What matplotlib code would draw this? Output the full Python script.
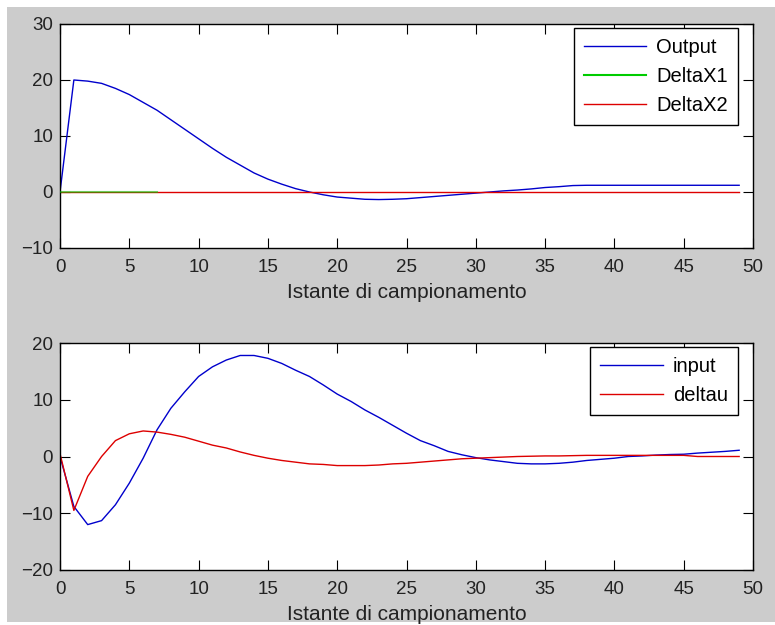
import matplotlib
matplotlib.use("Agg")
import matplotlib.pyplot as plt
from matplotlib.patches import Rectangle

plt.rcParams["font.family"] = ["Liberation Sans", "DejaVu Sans"]

# sample index
k = list(range(50))

output = [0, 20, 19.8, 19.4, 18.5, 17.4, 16.0, 14.6, 12.9, 11.2,
          9.5, 7.8, 6.2, 4.8, 3.4, 2.3, 1.4, 0.6, 0.0, -0.5,
          -0.9, -1.1, -1.3, -1.35, -1.3, -1.2, -1.0, -0.8, -0.6, -0.4,
          -0.2, 0.0, 0.2, 0.35, 0.55, 0.8, 0.95, 1.15, 1.2, 1.2,
          1.2, 1.2, 1.2, 1.2, 1.2, 1.2, 1.2, 1.2, 1.2, 1.2]
deltax1 = [0, 0, 0, 0, 0, 0, 0, 0]
deltax2 = [0] * 50

inp = [0, -8.8, -12.0, -11.3, -8.5, -4.7, -0.3, 4.7, 8.5, 11.4,
       14.1, 15.8, 17.0, 17.8, 17.8, 17.3, 16.4, 15.2, 14.1, 12.6,
       11.0, 9.7, 8.2, 6.9, 5.5, 4.1, 2.8, 1.9, 0.9, 0.3,
       -0.2, -0.6, -0.9, -1.2, -1.3, -1.3, -1.2, -1.0, -0.7, -0.5,
       -0.3, 0.0, 0.1, 0.25, 0.35, 0.4, 0.6, 0.75, 0.9, 1.1]
deltau = [0.5, -9.5, -3.5, 0.0, 2.8, 4.0, 4.5, 4.3, 3.9, 3.4,
          2.7, 2.0, 1.5, 0.8, 0.2, -0.3, -0.7, -1.0, -1.3, -1.4,
          -1.6, -1.6, -1.6, -1.5, -1.3, -1.2, -1.0, -0.8, -0.6, -0.4,
          -0.3, -0.2, -0.1, 0.0, 0.05, 0.1, 0.1, 0.15, 0.2, 0.2,
          0.2, 0.2, 0.2, 0.2, 0.2, 0.2, 0.0, 0.0, 0.0, 0.0]

W, H = 775, 625
fig = plt.figure(figsize=(W / 100, H / 100), dpi=100, facecolor="white")
fig.patches.append(Rectangle((7 / W, 1 - 622 / H), (775 - 7) / W, (622 - 7) / H,
                             transform=fig.transFigure, facecolor="#cccccc",
                             edgecolor="none", zorder=-10))

FS = 13.5
LFS = 14.5


def style(ax, ylim, yticks):
    ax.set_xlim(0, 50)
    ax.set_ylim(*ylim)
    ax.set_xticks(range(0, 51, 5))
    ax.set_yticks(yticks)
    ax.tick_params(direction="in", top=True, right=True, length=7,
                   labelsize=FS, colors="black", labelcolor="#222222")
    ax.tick_params(axis="x", pad=8)
    ax.tick_params(axis="y", pad=5)
    for s in ax.spines.values():
        s.set_linewidth(1.0)
    ax.set_xlabel("Istante di campionamento", fontsize=15, color="#222222",
                  labelpad=5)


def legend(ax, handles, labels, top_px):
    leg = ax.legend(handles, labels, loc="upper right",
                    bbox_to_anchor=(738 / W, 1 - top_px / H),
                    bbox_transform=fig.transFigure, borderaxespad=0,
                    fontsize=LFS, fancybox=False, edgecolor="black",
                    framealpha=1, handlelength=3.1, handletextpad=0.5,
                    labelspacing=0.5, borderpad=0.5)
    leg.get_frame().set_linewidth(1.0)
    for lh in leg.legend_handles:
        lh.set_alpha(1)
    return leg


ax1 = fig.add_axes([60 / W, 1 - 248 / H, (753 - 60) / W, (248 - 24) / H])
ax1.plot(k, output, color="#0000cc", lw=1.0, label="Output")
ax1.plot(k, deltax2, color="#dd0000", lw=1.0, label="DeltaX2", zorder=2)
ax1.plot(k[:len(deltax1)], deltax1, color="#00cc00", lw=1.5, alpha=0.55,
         label="DeltaX1", zorder=3)
style(ax1, (-10, 30), range(-10, 31, 10))
h, l = ax1.get_legend_handles_labels()
order = [0, 2, 1]
legend(ax1, [h[i] for i in order], [l[i] for i in order], 28)

ax2 = fig.add_axes([60 / W, 1 - 570 / H, (753 - 60) / W, (570 - 343) / H])
ax2.plot(k, inp, color="#0000cc", lw=1.0, label="input")
ax2.plot(k, deltau, color="#dd0000", lw=1.0, label="deltau")
style(ax2, (-20, 20), range(-20, 21, 10))
h, l = ax2.get_legend_handles_labels()
legend(ax2, h, l, 347)

fig.savefig("out.png", dpi=100, facecolor=fig.get_facecolor())
